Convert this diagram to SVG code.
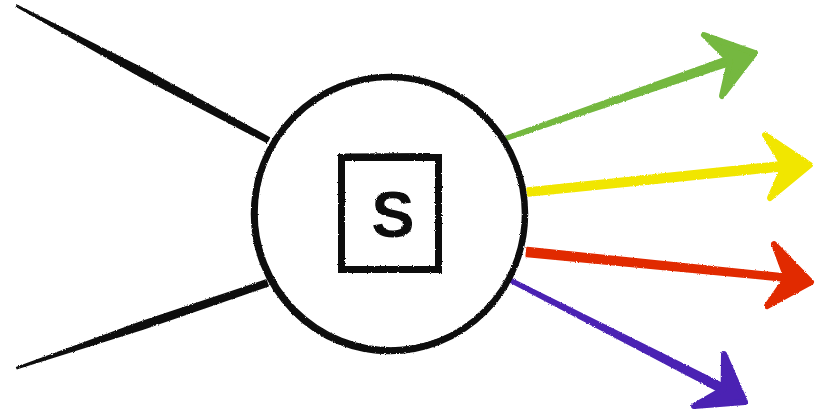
<svg xmlns="http://www.w3.org/2000/svg" width="818" height="414" viewBox="0 0 818 414">
<style>
.ink{fill:#111;stroke:#111;stroke-width:1.8;stroke-linejoin:round}
.ring{fill:none;stroke:#111}
.green{fill:#74b83f;stroke:#74b83f}
.yellow{fill:#f1e600;stroke:#f1e600}
.red{fill:#e12a00;stroke:#e12a00}
.purple{fill:#4b22b3;stroke:#4b22b3}
.shaft{stroke-width:2.4;stroke-linejoin:round}
.head{stroke-width:6;stroke-linejoin:round}
.label{font-family:"Liberation Sans",Arial,sans-serif;font-weight:bold;font-size:65px;fill:#111}
</style>
<defs>
<filter id="rough" x="-5%" y="-5%" width="110%" height="110%">
<feTurbulence type="fractalNoise" baseFrequency="0.9" numOctaves="2" seed="3" result="n"/>
<feDisplacementMap in="SourceGraphic" in2="n" scale="2.4" xChannelSelector="R" yChannelSelector="G"/>
</filter>
</defs>
<rect width="818" height="414" fill="#fff"/>
<g id="connectors" filter="url(#rough)">
<g id="in-top"><polygon class="ink" points="17.2,5.6 144.4,69.5 269.2,137.8 266.8,142.2 140.6,76.5 16.8,6.4"/></g>
<g id="in-bottom"><polygon class="ink" points="16.8,367.5 140.9,322.2 266,280.2 268,285.8 143.1,328.8 17.2,368.5"/></g>
<g id="out-green">
<polygon class="green shaft" points="506.5,136.6 728.7,56.7 731.3,64.3 507.5,139.4"/>
<polygon class="green head" points="704,35 755,53 722,96 730,61"/>
</g>
<g id="out-yellow">
<polygon class="yellow shaft" points="527.6,188.5 783.6,162 784.4,170 528.4,195.5"/>
<polygon class="yellow head" points="765,135 810,165 770,198 784,166"/>
</g>
<g id="out-red">
<polygon class="red shaft" points="527.4,248 786.9,274.8 786.3,280.8 526.6,256"/>
<polygon class="red head" points="774,244 811,282 767,306 786.6,277.8"/>
</g>
<g id="out-purple">
<polygon class="purple shaft" points="510.7,278.7 725.4,385.6 721.8,392.8 509.3,281.3"/>
<polygon class="purple head" points="724,354 745,402 694,406 723.6,389.2"/>
</g>
</g>
<g id="node-s" filter="url(#rough)">
<ellipse class="ring" cx="389.5" cy="214" rx="135.5" ry="137" stroke-width="6.5"/>
<ellipse class="ring" cx="391" cy="213" rx="134" ry="135" stroke-width="1.5"/>
<rect x="341.5" y="157.5" width="97" height="112" fill="none" stroke="#111" stroke-width="7"/>
<line x1="345" y1="154.5" x2="430" y2="154" stroke="#111" stroke-width="2"/>
<text class="label" x="393" y="237" text-anchor="middle">S</text>
</g>
</svg>
